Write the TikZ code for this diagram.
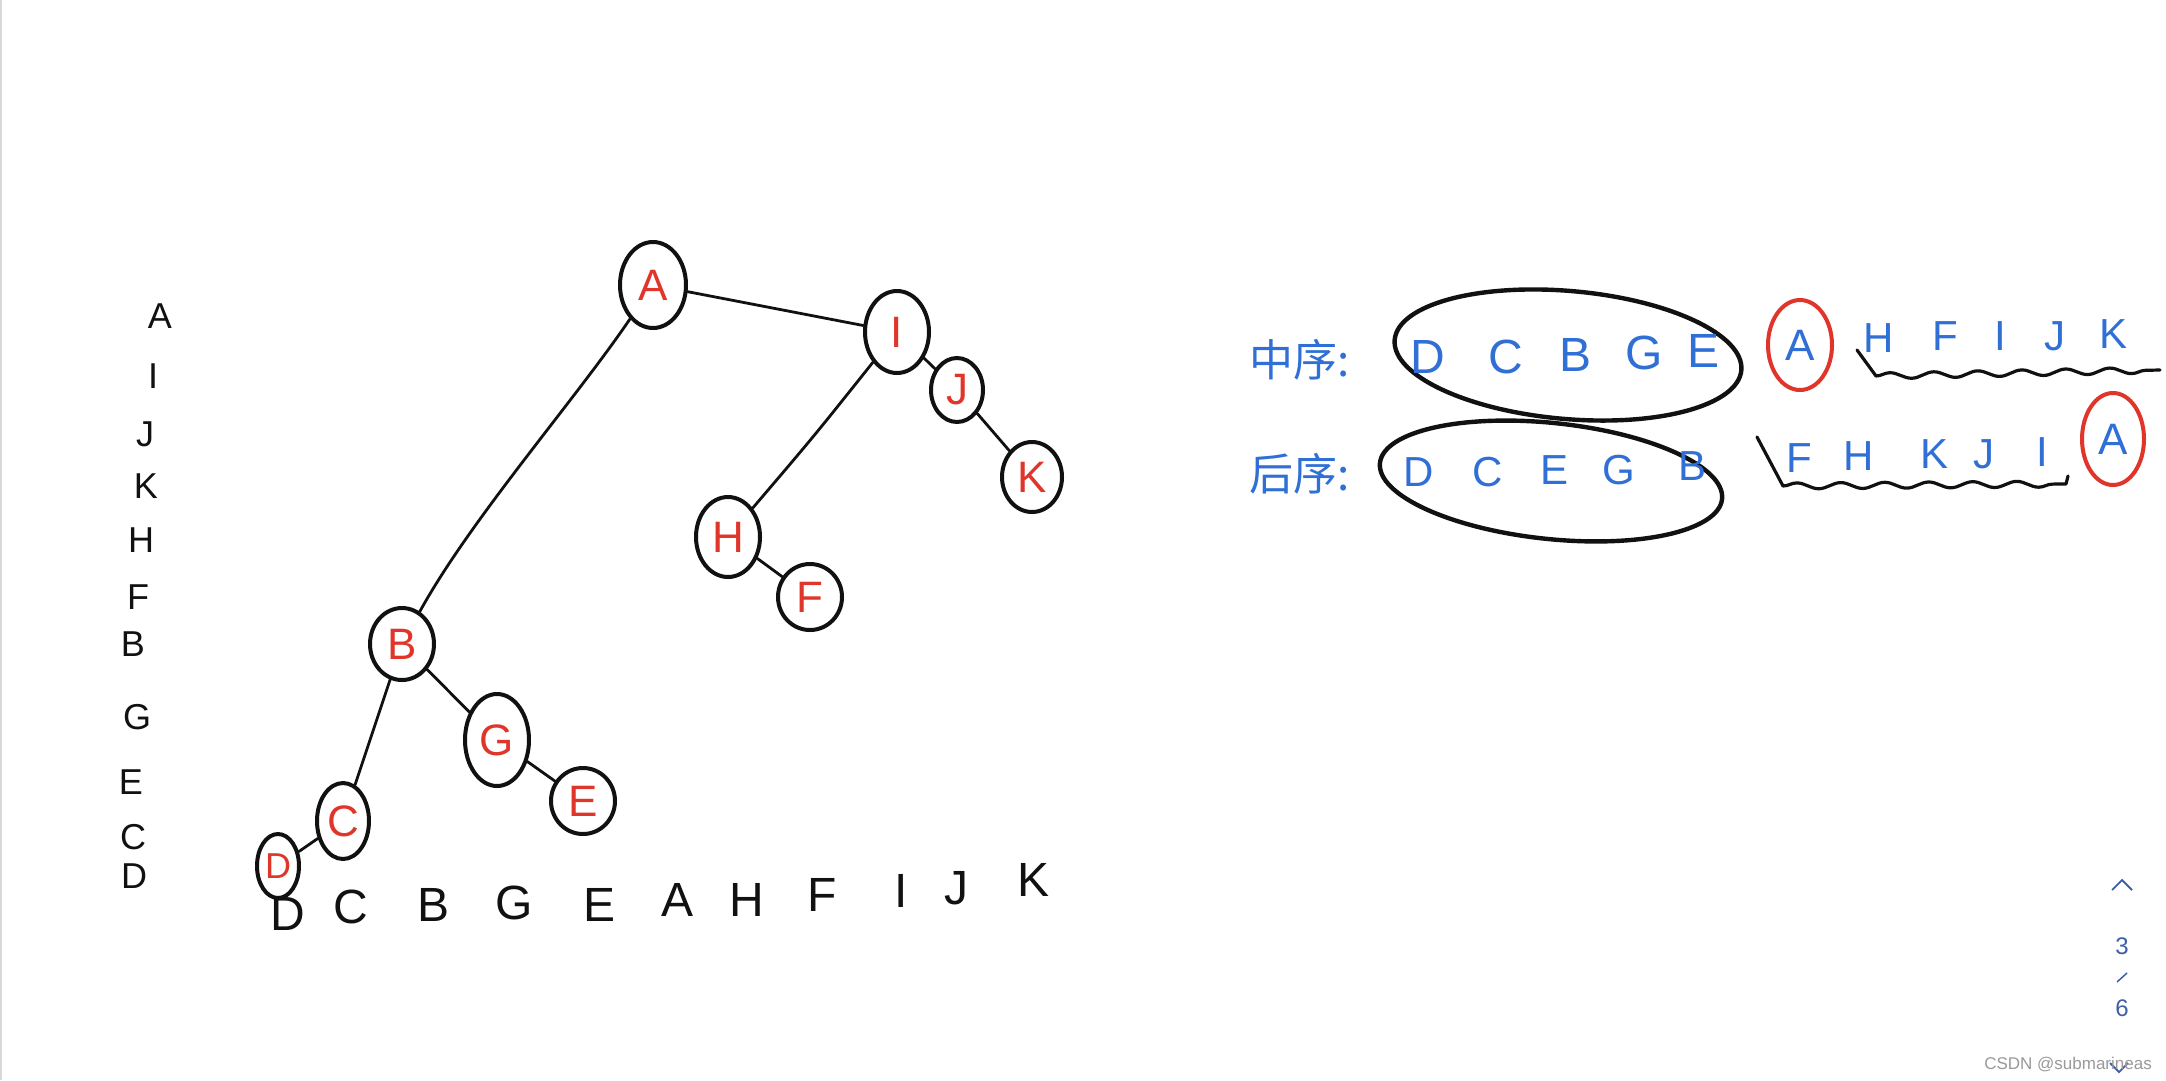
\documentclass[tikz,border=0pt]{standalone}
\usepackage{fontspec}
\setmainfont{Liberation Sans}
\newfontfamily\cjk{Noto Sans CJK SC}
\usetikzlibrary{shapes.geometric,decorations.pathmorphing}
\definecolor{ink}{HTML}{111111}
\definecolor{redink}{HTML}{E0352B}
\definecolor{blueink}{HTML}{2F6FD6}
\definecolor{navblue}{HTML}{3E5FA8}
\definecolor{wm}{HTML}{9A9A9A}
\tikzset{
  tnode/.style={ellipse, draw=ink, line width=4pt, inner sep=0pt, text=redink, font=\fontsize{44}{44}\selectfont},
  tedge/.style={draw=ink, line width=2.8pt, line cap=round},
  colletter/.style={text=ink, font=\fontsize{36}{36}\selectfont, inner sep=0pt},
  rowletter/.style={text=ink, font=\fontsize{48}{48}\selectfont, inner sep=0pt},
  seqA/.style={text=blueink, font=\fontsize{48}{48}\selectfont, inner sep=0pt},
  seqB/.style={text=blueink, font=\fontsize{42}{42}\selectfont, inner sep=0pt},
  cnlabel/.style={text=blueink, font=\cjk\fontsize{44}{44}\selectfont, inner sep=0pt},
  redring/.style={ellipse, draw=redink, line width=4pt, inner sep=0pt, text=blueink, font=\fontsize{44}{44}\selectfont},
  grp/.style={draw=ink, line width=4.4pt},
  wave/.style={draw=ink, line width=3.2pt, line cap=round, line join=round},
  nav/.style={text=navblue, font=\fontsize{24}{24}\selectfont, inner sep=0pt}
}
\begin{document}
\begin{tikzpicture}[x=1pt,y=-1pt]
\useasboundingbox (0,0) rectangle (2166,1080);
\fill[white] (0,0) rectangle (2166,1080);
\draw[black!15, line width=1.5pt] (1,0) -- (1,1080);

% ---------- tree ----------
\node[tnode, minimum width=66pt, minimum height=86pt] (A) at (653,285) {A};
\node[tnode, minimum width=64pt, minimum height=82pt] (I) at (897,332) {I};
\node[tnode, minimum width=52pt, minimum height=64pt] (J) at (957,390) {J};
\node[tnode, minimum width=60pt, minimum height=70pt] (K) at (1032,477) {K};
\node[tnode, minimum width=64pt, minimum height=80pt] (H) at (728,537) {H};
\node[tnode, minimum width=64pt, minimum height=66pt] (F) at (810,597) {F};
\node[tnode, minimum width=64pt, minimum height=72pt] (B) at (402,644) {B};
\node[tnode, minimum width=64pt, minimum height=92pt] (G) at (497,740) {G};
\node[tnode, minimum width=64pt, minimum height=66pt] (E) at (583,801) {E};
\node[tnode, minimum width=52pt, minimum height=76pt] (C) at (343,821) {C};
\node[tnode, minimum width=42pt, minimum height=64pt, font=\fontsize{36}{36}\selectfont] (D) at (278,866) {D};

\draw[tedge] (A) .. controls (575,400) and (470,520) .. (B);
\draw[tedge] (A) -- (I);
\draw[tedge] (I) -- (J);
\draw[tedge] (J) -- (K);
\draw[tedge] (I) .. controls (815,435) .. (H);
\draw[tedge] (H) -- (F);
\draw[tedge] (B) -- (G);
\draw[tedge] (B) -- (C);
\draw[tedge] (C) -- (D);
\draw[tedge] (G) -- (E);

% ---------- left column ----------
\node[colletter] (lA) at (160,316) {A};
\node[colletter] (lI) at (153,376) {I};
\node[colletter] (lJ) at (145,434) {J};
\node[colletter] (lK) at (146,486) {K};
\node[colletter] (lH) at (141,540) {H};
\node[colletter] (lF) at (138,597) {F};
\node[colletter] (lB) at (133,644) {B};
\node[colletter] (lG) at (137,717) {G};
\node[colletter] (lE) at (131,782) {E};
\node[colletter] (lC) at (133,837) {C};
\node[colletter] (lD) at (134,876) {D};

% ---------- bottom row ----------
\node[rowletter] (bD) at (288,914) {D};
\node[rowletter] (bC) at (351,907) {C};
\node[rowletter] (bB) at (434,905) {B};
\node[rowletter] (bG) at (514,903) {G};
\node[rowletter] (bE) at (600,905) {E};
\node[rowletter] (bA) at (678,900) {A};
\node[rowletter] (bH) at (747,900) {H};
\node[rowletter] (bF) at (822,895) {F};
\node[rowletter] (bI) at (901,891) {I};
\node[rowletter] (bJ) at (956,888) {J};
\node[rowletter] (bK) at (1033,880) {K};

% ---------- in-order row ----------
\node[cnlabel] (in) at (1300,360) {中序:};
\draw[grp, rotate around={-5:(1568,355)}] (1568,355) ellipse (174pt and 64pt);
\node[seqA] (i1) at (1428,357) {D};
\node[seqA] (i2) at (1506,357) {C};
\node[seqA] (i3) at (1575,355) {B};
\node[seqA] (i4) at (1644,353) {G};
\node[seqA] (i5) at (1703,351) {E};
\node[redring, minimum width=64pt, minimum height=90pt] (iA) at (1800,345) {A};
\node[seqB] (i6) at (1879,338) {H};
\node[seqB] (i7) at (1945,336) {F};
\node[seqB] (i8) at (2000,336) {I};
\node[seqB] (i9) at (2055,336) {J};
\node[seqB] (i10) at (2113,334) {K};
\draw[wave] (1857,350) -- (1876,376)
  decorate[decoration={snake,amplitude=3pt,segment length=44pt}] {-- (2160,370)};

% ---------- post-order row ----------
\node[cnlabel] (post) at (1300,474) {后序:};
\draw[grp, rotate around={-6:(1551,481)}] (1551,481) ellipse (172pt and 58pt);
\node[seqB] (p1) at (1419,472) {D};
\node[seqB] (p2) at (1488,472) {C};
\node[seqB] (p3) at (1554,470) {E};
\node[seqB] (p4) at (1619,470) {G};
\node[seqB] (p5) at (1692,466) {B};
\node[seqB] (p6) at (1799,458) {F};
\node[seqB] (p7) at (1859,456) {H};
\node[seqB] (p8) at (1934,454) {K};
\node[seqB] (p9) at (1984,454) {J};
\node[seqB] (p10) at (2042,452) {I};
\node[redring, minimum width=62pt, minimum height=92pt] (pA) at (2113,439) {A};
\draw[wave] (1757,437) -- (1783,486)
  decorate[decoration={snake,amplitude=3pt,segment length=44pt}] {-- (2066,484)} -- (2068,476);

% ---------- page navigation ----------
\draw[navblue, line width=1.8pt] (2112,890) -- (2122,880) -- (2132,890);
\node[nav] (n3) at (2122,946) {3};
\draw[navblue, line width=1.5pt] (2117,982) -- (2127,973);
\node[nav] (n6) at (2122,1008) {6};
\draw[navblue, line width=1.8pt] (2110,1063) -- (2119,1072) -- (2128,1063);
\node[text=wm, font=\fontsize{17}{17}\selectfont, anchor=east, inner sep=0pt] (wmk) at (2152,1064) {CSDN @submarineas};
\end{tikzpicture}
\end{document}
